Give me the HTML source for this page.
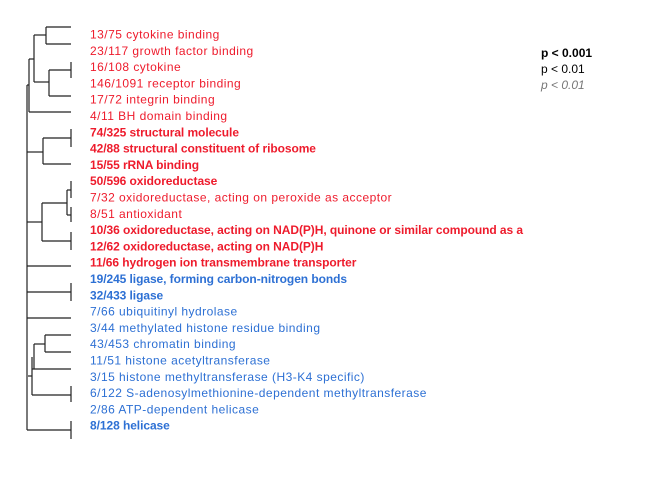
<!DOCTYPE html>
<html><head><meta charset="utf-8"><style>
body{margin:0;background:#fff;width:672px;height:480px;overflow:hidden}
svg{font-family:"Liberation Sans",Arial,sans-serif}
</style></head><body>
<svg width="672" height="480">
<g id="tree" stroke="#222" stroke-width="1.2" fill="none"></g>
<g id="labels"></g>
<g font-size="12">
<text x="541" y="57" font-weight="bold" fill="#000">p &lt; 0.001</text>
<text x="541" y="73" fill="#000">p &lt; 0.01</text>
<text x="541" y="89" font-style="italic" fill="#777">p &lt; 0.01</text>
</g>
</svg>
<script>
const labels=["13/75 cytokine binding","23/117 growth factor binding","16/108 cytokine","146/1091 receptor binding","17/72 integrin binding","4/11 BH domain binding","74/325 structural molecule","42/88 structural constituent of ribosome","15/55 rRNA binding","50/596 oxidoreductase","7/32 oxidoreductase, acting on peroxide as acceptor","8/51 antioxidant","10/36 oxidoreductase, acting on NAD(P)H, quinone or similar compound as a","12/62 oxidoreductase, acting on NAD(P)H","11/66 hydrogen ion transmembrane transporter","19/245 ligase, forming carbon-nitrogen bonds","32/433 ligase","7/66 ubiquitinyl hydrolase","3/44 methylated histone residue binding","43/453 chromatin binding","11/51 histone acetyltransferase","3/15 histone methyltransferase (H3-K4 specific)","6/122 S-adenosylmethionine-dependent methyltransferase","2/86 ATP-dependent helicase","8/128 helicase"];
const colors=["r","r","r","r","r","r","r","r","r","r","r","r","r","r","r","b","b","b","b","b","b","b","b","b","b"];
const bold=[0,0,0,0,0,0,1,1,1,1,0,0,1,1,1,1,1,0,0,0,0,0,0,0,1];
const lg=document.getElementById('labels');
labels.forEach((t,i)=>{
 const e=document.createElementNS('http://www.w3.org/2000/svg','text');
 e.setAttribute('x',90);e.setAttribute('y',38.5+i*16.3);
 e.setAttribute('font-size','12');
 e.setAttribute('letter-spacing',bold[i]?'-0.07':'0.47');
 e.setAttribute('fill',colors[i]==='r'?'#ee1b2c':'#2d70d4');
 if(bold[i])e.setAttribute('font-weight','bold');
 e.textContent=t;
 
 
 lg.appendChild(e);
});
const segs=[
[46,27,71,27],[46,44,71,44],[46,27,46,44],[34,35,46,35],[34,35,34,82],[34,82,49,82],[49,70,49,96],[49,70,71,70],[49,96,71,96],[71,62,71,78],
[29,59,34,59],[29,59,29,112],[29,112,71,112],[27,85,29,85],
[27,85,27,430],[27,152,43,152],[43,138,43,164],[43,138,71,138],[43,164,71,164],[71,129,71,147],
[27,222,42,222],[42,203,42,241],[42,203,67,203],[67,190,67,215],[67,190,71,190],[67,215,71,215],[71,181,71,198],[71,207,71,222],
[42,241,71,241],[71,232,71,250],[27,266,71,266],[27,292,71,292],[71,283,71,301],[27,318,71,318],
[45,335,71,335],[45,352,71,352],[45,335,45,352],[34,344,45,344],[34,344,34,369],[32,369,71,369],[32,357,32,395],[32,395,71,395],[71,386,71,402],[28,376,32,376],
[27,430,71,430],[71,421,71,439]];
const tg=document.getElementById('tree');
segs.forEach(s=>{
 const l=document.createElementNS('http://www.w3.org/2000/svg','line');
 l.setAttribute('x1',s[0]);l.setAttribute('y1',s[1]);l.setAttribute('x2',s[2]);l.setAttribute('y2',s[3]);
 
 
 tg.appendChild(l);
});
</script>
</body></html>
